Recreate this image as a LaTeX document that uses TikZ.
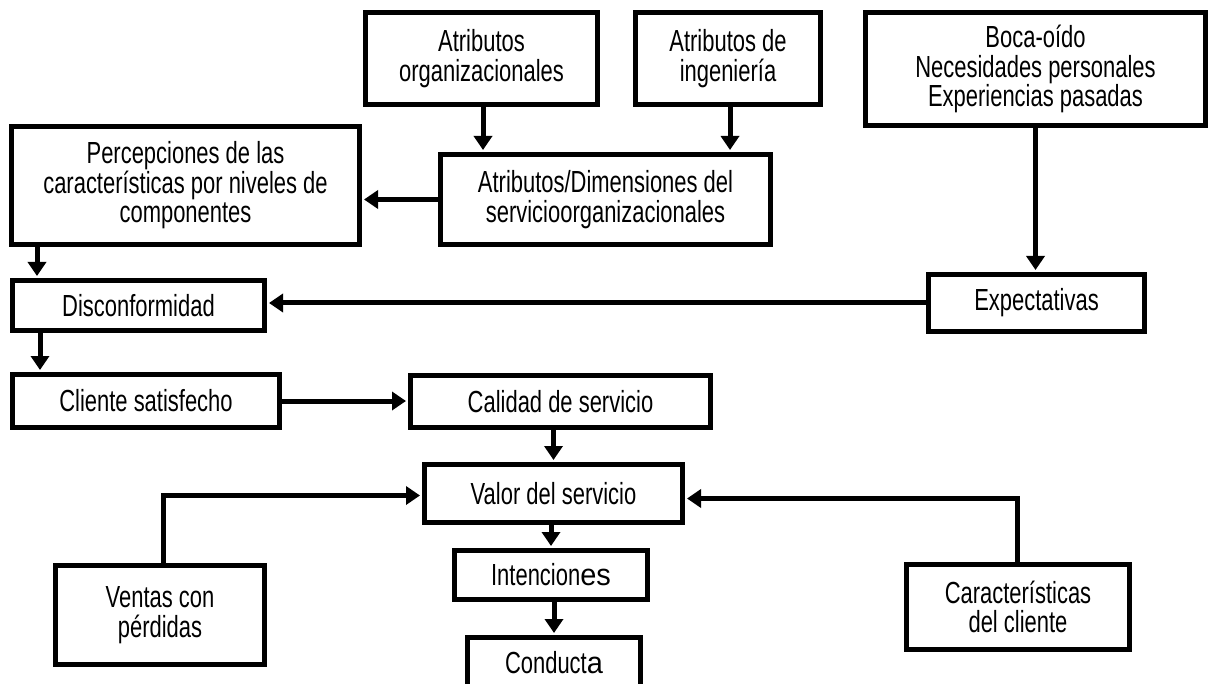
\documentclass[tikz,border=0pt]{standalone}
\usepackage{fontspec}
\setmainfont{Liberation Sans}[FakeStretch=0.72]
\newfontfamily\widefont{Liberation Sans}[FakeStretch=0.95]
\usetikzlibrary{arrows.meta}
\begin{document}
\begin{tikzpicture}[x=1pt,y=-1pt,
  box/.style={draw=black,line width=5pt,fill=white,align=center,inner sep=0pt,
    font=\fontsize{30.5}{29.5}\selectfont,text=black},
  arr/.style={draw=black,line width=5pt,shorten >=2pt,-{Triangle[width=18pt,length=14pt]}},
  ln/.style={draw=black,line width=5pt}]
\useasboundingbox (0,0) rectangle (1209,684);

% top row
\node[box,minimum width=232pt,minimum height=92pt] (org) at (481.5,58.5) {Atributos\\organizacionales};
\node[box,minimum width=185pt,minimum height=92pt] (ing) at (728,58.5) {Atributos de\\ingeniería};
\node[box,minimum width=340pt,minimum height=113pt] (boca) at (1035.5,69) {Boca-oído\\Necesidades personales\\Experiencias pasadas};

% second row
\node[box,minimum width=348pt,minimum height=118pt] (perc) at (185.5,185.5) {Percepciones de las\\características por niveles de\\componentes};
\node[box,minimum width=330pt,minimum height=90pt] (dim) at (605.5,199.5) {Atributos/Dimensiones del\\servicioorganizacionales};

% middle
\node[box,minimum width=216pt,minimum height=57pt] (exp) at (1036.5,303) {Expectativas};
\node[box,minimum width=252pt,minimum height=50pt] (disc) at (138.5,305.5) {Disconformidad};
\node[box,minimum width=267pt,minimum height=53pt] (cli) at (146,401) {Cliente satisfecho};
\node[box,minimum width=300pt,minimum height=52pt] (cal) at (560.5,401.5) {Calidad de servicio};
\node[box,minimum width=258pt,minimum height=58pt] (val) at (553.5,493.5) {Valor del servicio};
\node[box,minimum width=193pt,minimum height=49pt] (int) at (551,575) {Intencion{\widefont es}};
\node[box,minimum width=173pt,minimum height=51pt] (con) at (554,663) {Conduct{\widefont a}};

% lower sides
\node[box,minimum width=209pt,minimum height=99pt] (ven) at (160,615) {Ventas con\\pérdidas};
\node[box,minimum width=223pt,minimum height=85pt] (car) at (1018,607) {Características\\del cliente};

% connectors
\draw[arr] ([xshift=1.5pt]org.south) -- ([xshift=1.5pt]org.south |- dim.north);
\draw[arr] ([xshift=2pt]ing.south) -- ([xshift=2pt]ing.south |- dim.north);
\draw[arr] (dim.west) -- (dim.west -| perc.east);
\draw[arr] ([xshift=28pt]perc.south west) -- ([xshift=28pt]perc.south west |- disc.north);
\draw[arr] (boca.south) -- (boca.south |- exp.north);
\draw[arr] (exp.west) -- (exp.west -| disc.east);
\draw[arr] ([xshift=30pt]disc.south west) -- ([xshift=30pt]disc.south west |- cli.north);
\draw[arr] (cli.east) -- (cli.east -| cal.west);
\draw[arr] (val.north |- cal.south) -- (val.north);
\draw[arr] (int.north |- val.south) -- (int.north);
\draw[arr] (con.north |- int.south) -- (con.north);
\draw[arr] ([xshift=3pt]ven.north) |- ([yshift=-2pt]val.west);
\draw[arr] ([xshift=-1pt]car.north) |- ([yshift=-5pt]val.east);
\end{tikzpicture}
\end{document}
